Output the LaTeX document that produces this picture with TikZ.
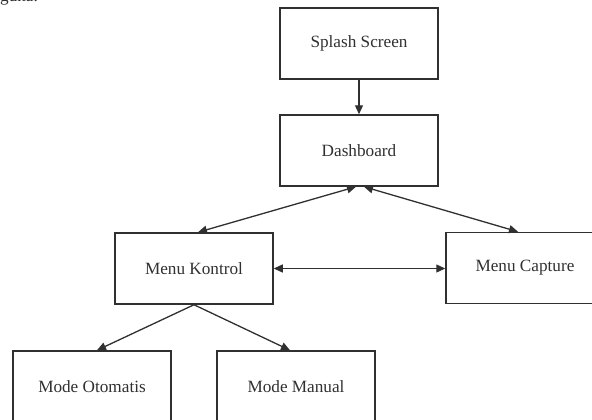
\documentclass[tikz,border=0pt]{standalone}
\usepackage{fontspec}
\setmainfont{Liberation Serif}
\usetikzlibrary{arrows.meta}
\definecolor{ink}{HTML}{303030}
\begin{document}
\begin{tikzpicture}[x=1pt,y=-1pt,
  box/.style={draw=ink, line width=1.5pt, minimum width=158pt, minimum height=71pt,
    inner sep=0pt, text=ink, font=\fontsize{17.2}{20}\selectfont},
  conn/.style={draw=ink, line width=1.3pt},
  tip/.style={-{Triangle[length=9pt,width=8pt]}},
  both/.style={{Triangle[length=9pt,width=8pt]}-{Triangle[length=9pt,width=8pt]}}]
\useasboundingbox (0,0) rectangle (592,420);
\clip (0,0) rectangle (592,420);
\node[anchor=base west, text=ink, font=\fontsize{17.2}{20}\selectfont, inner sep=0pt] (frag) at (0,2) {guna.};
\node[box] (splash) at (359,43.5) {Splash Screen};
\node[box] (dash) at (359,150.5) {Dashboard};
\node[box] (kontrol) at (194,268.5) {Menu Kontrol};
\node[box] (capture) at (525,268) {Menu Capture};
\node[box] (otomatis) at (92,386.5) {Mode Otomatis};
\node[box] (manual) at (296,386.5) {Mode Manual};
\draw[conn,tip] (splash.south) -- (dash.north);
\draw[conn,both] ([xshift=-3pt]dash.south) -- ([xshift=4pt]kontrol.north);
\draw[conn,both] ([xshift=5pt]dash.south) -- ([xshift=-7pt]capture.north);
\draw[conn,both] (kontrol.east) -- (capture.west |- kontrol.east);
\draw[conn,tip] (kontrol.south) -- ([xshift=5pt]otomatis.north);
\draw[conn,tip] (kontrol.south) -- ([xshift=-6pt]manual.north);
\end{tikzpicture}
\end{document}
